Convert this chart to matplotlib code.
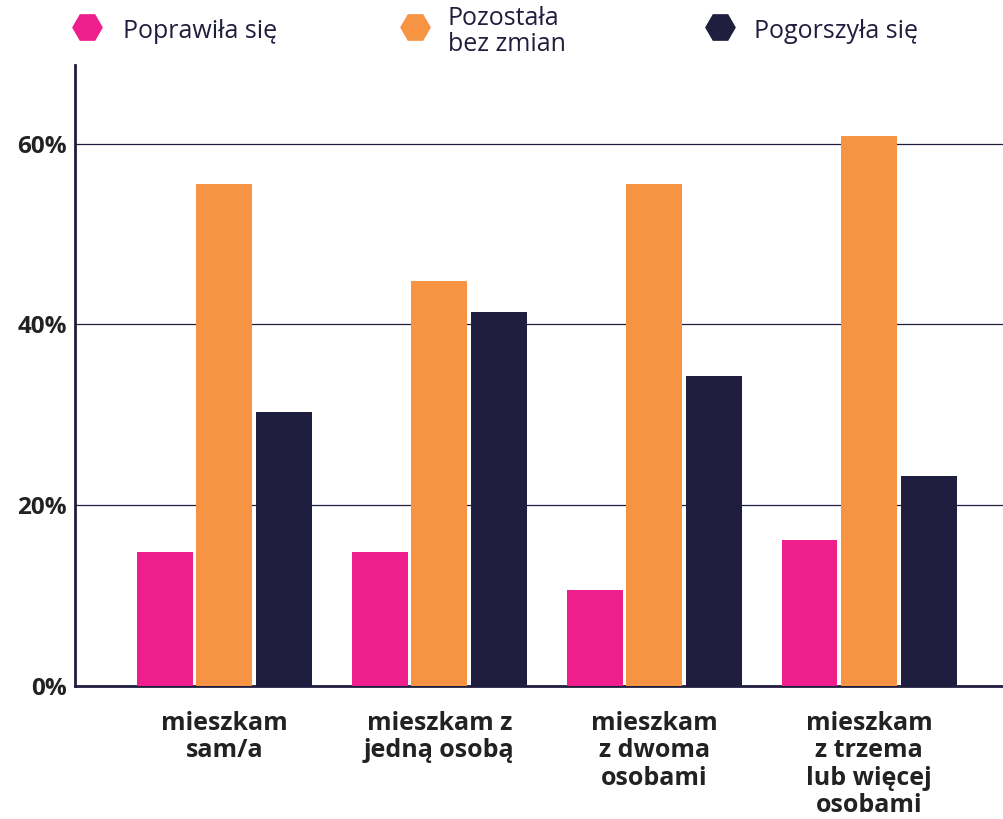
import matplotlib
matplotlib.use("Agg")
import matplotlib.pyplot as plt
import numpy as np

kategorie = ["mieszkam\nsam/a", "mieszkam z\njedną osobą", "mieszkam\nz dwoma\nosobami",
             "mieszkam\nz trzema\nlub więcej\nosobami"]
poprawila = [14.8, 14.8, 10.6, 16.2]
bez_zmian = [55.5, 44.8, 55.5, 60.9]
pogorszyla = [30.3, 41.4, 34.3, 23.2]
serie = ["Poprawiła się", "Pozostała\nbez zmian", "Pogorszyła się"]
kolory = ["#ee1f8c", "#f69443", "#201e3e"]
granat = "#201e3e"

plt.rcParams["font.family"] = ["Open Sans", "DejaVu Sans"]

fig = plt.figure(figsize=(10.04, 8.19), dpi=100)
ax = fig.add_axes([0.0747, 0.1624, 0.9253, 0.7582])

x = np.arange(len(kategorie))
szer = 0.26
krok = 0.277
for i, dane in enumerate([poprawila, bez_zmian, pogorszyla]):
    ax.bar(x + (i - 1) * krok, dane, width=szer, color=kolory[i], zorder=3)

ax.set_xlim(-0.695, 3.628)
ax.set_ylim(0, 68.7)
ax.set_yticks([0, 20, 40, 60])
ax.set_yticklabels(["0%", "20%", "40%", "60%"])
ax.yaxis.grid(True, color=granat, linewidth=0.9)
ax.set_axisbelow(True)
ax.tick_params(axis="y", length=0, pad=6, labelsize=17.5, labelcolor="#222222")
for lab in ax.get_yticklabels():
    lab.set_fontweight("bold")
ax.set_xticks(x)
ax.set_xticklabels(kategorie, fontsize=18, fontweight="bold", color="#222222", linespacing=1.12)
ax.tick_params(axis="x", length=0, pad=18)

for s in ["top", "right"]:
    ax.spines[s].set_visible(False)
ax.spines["left"].set_color(granat)
ax.spines["left"].set_linewidth(2)
ax.spines["bottom"].set_color(granat)
ax.spines["bottom"].set_linewidth(2)

# legenda
pozycje = [(0.0867, 0.123), (0.4133, 0.446), (0.7171, 0.751)]
for (xm, xt), nazwa, kolor in zip(pozycje, serie, kolory):
    fig.lines.append(plt.Line2D([xm], [0.967], marker="H", markersize=21, color=kolor,
                                linestyle="none", transform=fig.transFigure))
    fig.text(xt, 0.962, nazwa, fontsize=18, color=granat, va="center", ha="left",
             linespacing=1.05)

fig.savefig("out.png", dpi=100)
